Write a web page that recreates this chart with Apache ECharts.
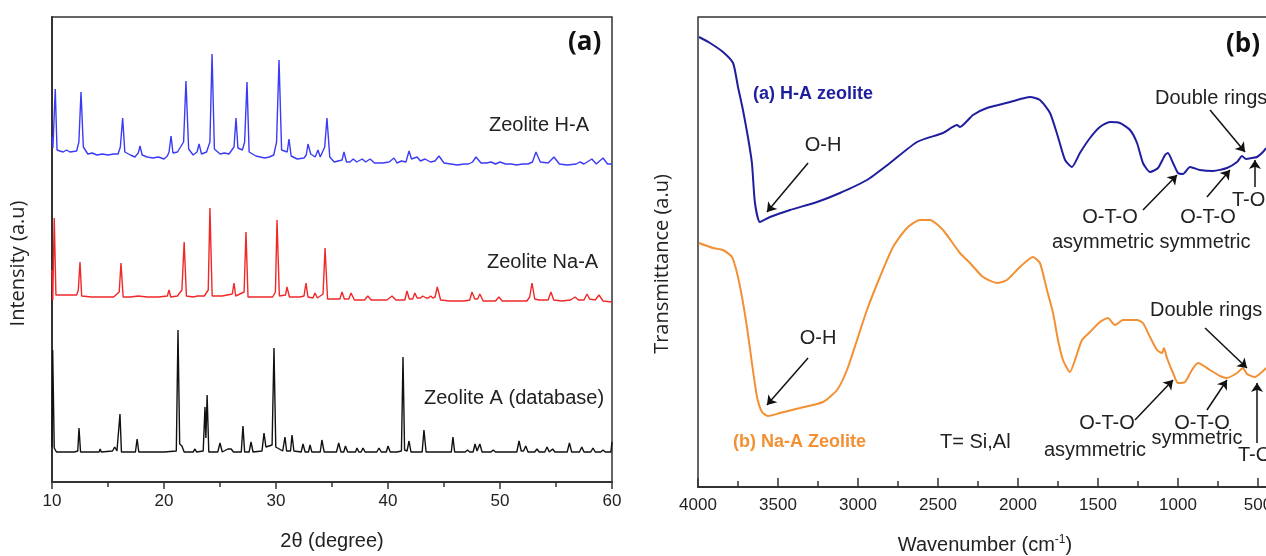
<!DOCTYPE html>
<html>
<head>
<meta charset="utf-8">
<script src="https://cdn.jsdelivr.net/npm/echarts@6/dist/echarts.min.js"></script>
<style>
  html, body { margin: 0; padding: 0; background: #fff; }
  #main { width: 1266px; height: 556px; }
</style>
</head>
<body>
<div id="main"></div>
<script>
// (a) XRD patterns: [2θ, intensity a.u.]
const xrdHA = [[10.0,345],[10.08,334],[10.29,393],[10.45,332],[10.7,331],[11.0,330],[11.3,332],[11.6,330],[12.2,331],[12.4,340],[12.59,390],[12.8,335],[13.2,328],[13.6,329],[14.0,327],[14.5,328],[15.0,327],[15.5,328],[15.9,328],[16.1,335],[16.31,364],[16.5,330],[17.0,327],[17.4,325],[17.7,329],[17.86,336],[18.05,327],[18.5,325],[19.0,324],[19.5,325],[20.0,323],[20.3,326],[20.45,330],[20.63,346],[20.8,329],[21.2,330],[21.75,340],[21.96,401],[22.2,333],[22.6,327],[22.95,330],[23.13,338],[23.35,328],[23.8,330],[24.1,340],[24.29,428],[24.5,333],[25.0,328],[25.4,329],[25.8,328],[26.25,335],[26.43,364],[26.6,334],[27.0,332],[27.2,340],[27.41,400],[27.6,330],[28.2,326],[28.6,325],[29.0,324],[29.4,325],[29.8,327],[30.05,340],[30.27,422],[30.5,332],[31.0,330],[31.16,343],[31.35,326],[31.9,323],[32.5,324],[32.7,327],[32.86,338],[33.1,328],[33.5,325],[33.75,332],[33.95,325],[34.35,335],[34.55,364],[34.8,325],[35.2,320],[35.9,322],[36.07,330],[36.3,320],[36.6,320],[36.9,323],[37.2,320],[37.7,323],[38.0,320],[38.4,323],[38.8,319],[39.5,319],[40.1,320],[40.54,324],[40.8,319],[41.2,321],[41.6,320],[41.88,331],[42.1,323],[42.6,325],[42.9,321],[43.3,323],[43.8,320],[44.2,321],[44.55,326],[45.0,319],[45.6,318],[46.2,317],[46.8,318],[47.2,318],[47.55,320],[47.86,325],[48.3,319],[48.8,319],[49.2,320],[49.6,318],[50.0,320],[50.5,318],[51.0,318],[51.5,317],[52.0,318],[52.5,318],[52.9,320],[53.21,330],[53.6,320],[54.3,319],[54.82,325],[55.3,318],[56.0,317],[56.8,318],[57.14,320],[57.5,318],[58.2,323],[58.6,318],[59.2,324],[59.6,318],[60.0,318]]
const xrdNaA = [[10.0,212],[10.07,182],[10.2,264],[10.35,187],[10.6,187],[11.0,187],[11.6,187],[12.2,187],[12.35,192],[12.5,220],[12.65,186],[13.5,185],[14.5,185],[15.5,185],[16.0,190],[16.16,219],[16.35,185],[17.0,185],[17.7,186],[18.5,185],[19.5,185],[20.3,186],[20.45,192],[20.6,185],[21.2,186],[21.6,192],[21.8,240],[22.0,186],[22.6,185],[23.0,186],[23.6,186],[23.95,192],[24.1,274],[24.3,186],[25.2,186],[26.1,188],[26.25,199],[26.4,186],[27.15,190],[27.32,250],[27.5,185],[28.5,185],[29.7,185],[29.95,190],[30.09,262],[30.3,186],[30.85,187],[30.98,195],[31.2,185],[32.1,185],[32.5,186],[32.68,199],[32.85,185],[33.3,184],[33.48,189],[33.7,184],[34.2,188],[34.38,234],[34.6,183],[35.7,183],[35.9,190],[36.1,183],[36.5,183],[36.7,189],[37.0,182],[37.9,182],[38.2,186],[38.5,182],[39.9,182],[40.36,186],[40.7,182],[41.5,182],[41.7,191],[41.9,183],[42.2,183],[42.4,189],[42.6,184],[42.9,184],[43.1,186],[43.4,184],[43.6,184],[43.8,186],[44.0,184],[44.2,185],[44.4,195],[44.7,182],[45.5,181],[46.8,181],[47.3,182],[47.5,190],[47.75,183],[48.0,183],[48.2,188],[48.5,181],[49.6,181],[49.9,185],[50.2,181],[51.0,181],[52.4,181],[52.65,185],[52.86,199],[53.1,183],[53.5,182],[54.3,182],[54.55,190],[54.8,182],[55.5,181],[56.3,182],[56.7,185],[57.0,182],[57.5,182],[57.77,188],[58.0,183],[58.5,182],[58.84,187],[59.2,181],[60.0,180]]
const xrdRef = [[10.0,35],[10.06,132],[10.2,34],[10.4,30],[11.0,30],[12.0,30],[12.3,31],[12.41,54],[12.55,30],[13.5,30],[14.2,30],[14.3,33],[14.4,30],[15.4,31],[15.6,35],[15.8,31],[15.95,32],[16.07,68],[16.2,30],[17.0,30],[17.45,30],[17.6,43],[17.75,30],[18.5,30],[18.66,32],[18.8,30],[20.0,30],[21.1,31],[21.25,152],[21.4,38],[21.6,36],[21.8,30],[22.6,30],[22.77,33],[22.9,30],[23.5,31],[23.66,75],[23.74,44],[23.85,87],[24.0,30],[24.8,30],[25.0,39],[25.2,30],[25.7,33],[25.85,31],[26.0,33],[26.2,30],[26.9,30],[27.05,56],[27.2,30],[27.6,30],[27.77,40],[27.95,30],[28.75,31],[28.93,49],[29.1,35],[29.65,37],[29.82,134],[29.98,35],[30.6,31],[30.8,45],[30.95,31],[31.3,31],[31.43,47],[31.6,31],[32.25,30],[32.41,38],[32.6,30],[32.9,30],[33.04,37],[33.2,30],[33.95,30],[34.1,42],[34.3,30],[35.4,30],[35.6,39],[35.8,30],[36.05,30],[36.2,36],[36.4,30],[37.1,30],[37.23,34],[37.4,30],[37.6,30],[37.77,34],[37.95,30],[39.0,30],[39.2,34],[39.4,30],[39.85,30],[40.0,36],[40.2,30],[40.8,30],[41.2,31],[41.34,125],[41.48,32],[41.7,31],[41.88,41],[42.05,30],[43.05,30],[43.21,52],[43.4,30],[45.65,30],[45.8,45],[45.95,30],[46.9,30],[47.1,32],[47.3,30],[47.6,30],[47.77,38],[47.95,31],[48.05,31],[48.2,38],[48.4,30],[49.2,30],[49.4,32],[49.6,30],[51.5,30],[51.7,41],[51.9,31],[52.1,31],[52.3,36],[52.5,30],[53.1,30],[53.3,33],[53.5,30],[54.0,30],[54.2,35],[54.4,30],[54.55,30],[54.7,33],[54.9,30],[56.0,30],[56.2,39],[56.4,30],[57.1,30],[57.3,35],[57.5,30],[58.1,30],[58.3,34],[58.5,30],[59.0,30],[59.2,32],[59.4,30],[59.9,30],[60.0,40]]

// (b) FTIR spectra: [wavenumber cm-1, transmittance a.u.]
const ftirHA = [[3994,450],[3925,444],[3844,435],[3781,424],[3750,400],[3719,377],[3688,350],[3663,324],[3644,284],[3613,265],[3550,270],[3425,277],[3256,285],[3113,294],[2944,307],[2800,324],[2631,345],[2469,354],[2381,362],[2363,360],[2281,372],[2194,379],[2050,385],[1925,390],[1863,387],[1800,374],[1750,350],[1706,327],[1663,320],[1613,334],[1550,349],[1488,360],[1425,365],[1363,364],[1300,357],[1256,344],[1219,324],[1175,315],[1125,319],[1081,332],[1063,334],[1031,324],[1000,314],[969,313],[925,320],[863,317],[781,316],[694,319],[631,325],[600,331],[575,328],[538,329],[506,330],[469,335],[450,339]]
const ftirNaA = [[3994,244],[3906,239],[3844,237],[3788,230],[3756,214],[3725,190],[3694,160],[3663,124],[3631,90],[3600,75],[3563,71],[3488,74],[3363,79],[3219,85],[3131,97],[3069,117],[3006,147],[2944,177],[2863,210],[2781,240],[2694,259],[2613,267],[2550,267],[2469,257],[2363,234],[2300,224],[2219,210],[2131,204],[2069,207],[1988,220],[1906,230],[1863,224],[1819,197],[1781,174],[1750,147],[1719,127],[1675,115],[1644,127],[1600,147],[1550,155],[1488,165],[1438,169],[1394,162],[1344,167],[1256,167],[1219,164],[1175,150],[1131,137],[1100,134],[1088,139],[1069,129],[1031,114],[1000,104],[956,105],[913,117],[875,124],[800,117],[738,111],[694,109],[631,114],[594,119],[569,113],[519,110],[475,115],[450,119]]

// annotation arrows in (b), [from, to] in data coords
const arrowsHA = [[[3312,324],[3569,275]],[[800,377],[581,335]],[[519,300],[519,327]],[[1219,277],[1006,312]],[[819,290],[675,317]]]
const arrowsNaA = [[[3312,129],[3569,82]],[[831,159],[569,119]],[[1269,67],[1031,107]],[[819,77],[694,107]],[[506,44],[506,104]]]

const AXIS = '#333'
const SANS = 'Liberation Sans'

function arrowLine (list) {
  return {
    silent: true,
    symbol: ['none', 'arrow'],
    symbolSize: 9,
    label: { show: false },
    lineStyle: { color: '#111', width: 1.5, type: 'solid' },
    emphasis: { disabled: true },
    data: list.map(a => [{ coord: a[0] }, { coord: a[1] }])
  }
}

function txt (text, x, y, opts) {
  return {
    type: 'text',
    x: x,
    y: y,
    silent: true,
    style: Object.assign({
      text: text,
      fill: '#222',
      font: '20px "' + SANS + '"',
      textAlign: 'left',
      textVerticalAlign: 'middle'
    }, opts || {})
  }
}

const myChart = echarts.init(document.getElementById('main'), null, { renderer: 'canvas' })

const option = {
  animation: false,
  backgroundColor: '#fff',
  grid: [
    { left: 52, top: 17, width: 560, height: 465, outerBoundsMode: 'none', show: true, borderColor: AXIS, borderWidth: 1.5, backgroundColor: 'transparent' },
    // x axis runs on to 0 cm-1, past the right edge of the picture
    { left: 698, top: 17, width: 640, height: 470, outerBoundsMode: 'none', show: true, borderColor: AXIS, borderWidth: 1.5, backgroundColor: 'transparent' }
  ],
  xAxis: [
    {
      gridIndex: 0,
      type: 'value',
      min: 10,
      max: 60,
      interval: 10,
      name: '2θ (degree)',
      nameLocation: 'middle',
      nameGap: 49,
      nameTextStyle: { fontFamily: SANS, fontSize: 20, color: '#222' },
      axisLine: { lineStyle: { color: AXIS, width: 2 } },
      axisTick: { show: true, inside: false, length: 7, lineStyle: { color: AXIS, width: 1.5 } },
      minorTick: { show: true, splitNumber: 2, length: 5, lineStyle: { color: AXIS, width: 1.5 } },
      axisLabel: { fontFamily: SANS, fontSize: 17, color: '#222', margin: 11 },
      splitLine: { show: false }
    },
    {
      gridIndex: 1,
      type: 'value',
      min: 0,
      max: 4000,
      interval: 500,
      inverse: true,
      name: '{n|Wavenumber (cm}{s|-1}{n|)}',
      nameLocation: 'middle',
      nameGap: 47,
      nameTextStyle: {
        padding: [0, 66, 0, 0],
        rich: {
          n: { fontFamily: SANS, fontSize: 20, color: '#222' },
          s: { fontFamily: SANS, fontSize: 12, color: '#222', verticalAlign: 'top', padding: [0, 0, 10, 0] }
        }
      },
      axisLine: { lineStyle: { color: AXIS, width: 2 } },
      axisTick: { show: true, inside: true, length: 9, lineStyle: { color: AXIS, width: 1.5 } },
      minorTick: { show: true, splitNumber: 2, length: 6, lineStyle: { color: AXIS, width: 1.5 } },
      axisLabel: { fontFamily: SANS, fontSize: 17, color: '#222', margin: 10, formatter: v => String(v) },
      splitLine: { show: false }
    }
  ],
  yAxis: [
    {
      gridIndex: 0,
      type: 'value',
      min: 0,
      max: 465,
      name: 'Intensity (a.u)',
      nameLocation: 'middle',
      nameGap: 24,
      nameTextStyle: { fontFamily: 'Open Sans', fontSize: 20, color: '#222', padding: [0, 28, 0, 0] },
      axisLine: { show: true, lineStyle: { color: AXIS, width: 2 } },
      axisTick: { show: false },
      axisLabel: { show: false },
      splitLine: { show: false }
    },
    {
      gridIndex: 1,
      type: 'value',
      min: 0,
      max: 470,
      name: 'Transmittance (a.u)',
      nameLocation: 'middle',
      nameGap: 26,
      nameTextStyle: { fontFamily: 'Open Sans', fontSize: 20, color: '#222', padding: [0, 24, 0, 0] },
      axisLine: { show: true, lineStyle: { color: AXIS, width: 2 } },
      axisTick: { show: false },
      axisLabel: { show: false },
      splitLine: { show: false }
    }
  ],
  series: [
    {
      name: 'Zeolite H-A', type: 'line', xAxisIndex: 0, yAxisIndex: 0,
      showSymbol: false, symbol: 'none',
      lineStyle: { color: '#3b3bf5', width: 1.4 },
      data: xrdHA
    },
    {
      name: 'Zeolite Na-A', type: 'line', xAxisIndex: 0, yAxisIndex: 0,
      showSymbol: false, symbol: 'none',
      lineStyle: { color: '#f02828', width: 1.4 },
      data: xrdNaA
    },
    {
      name: 'Zeolite A (database)', type: 'line', xAxisIndex: 0, yAxisIndex: 0,
      showSymbol: false, symbol: 'none',
      lineStyle: { color: '#111', width: 1.4 },
      data: xrdRef
    },
    {
      name: '(a) H-A zeolite', type: 'line', xAxisIndex: 1, yAxisIndex: 1,
      showSymbol: false, symbol: 'none', smooth: 0.2,
      lineStyle: { color: '#1e1e9e', width: 2 },
      markLine: arrowLine(arrowsHA),
      data: ftirHA
    },
    {
      name: '(b) Na-A Zeolite', type: 'line', xAxisIndex: 1, yAxisIndex: 1,
      showSymbol: false, symbol: 'none', smooth: 0.2,
      lineStyle: { color: '#f39033', width: 2 },
      markLine: arrowLine(arrowsNaA),
      data: ftirNaA
    }
  ],
  graphic: [
    // panel (a)
    txt('(a)', 568, 43, { font: 'bold 26px "Open Sans"', fill: '#111' }),
    txt('Zeolite H-A', 489, 125),
    txt('Zeolite Na-A', 487, 262),
    txt('Zeolite A (database)', 424, 398),
    // panel (b)
    txt('(b)', 1226, 45, { font: 'bold 26px "Open Sans"', fill: '#111' }),
    txt('(a) H-A zeolite', 753, 94, { font: 'bold 18px "' + SANS + '"', fill: '#1e1e9e' }),
    txt('O-H', 823, 145, { textAlign: 'center' }),
    txt('O-H', 818, 338, { textAlign: 'center' }),
    txt('(b) Na-A Zeolite', 733, 442, { font: 'bold 18px "' + SANS + '"', fill: '#f39033' }),
    txt('T= Si,Al', 940, 442),
    txt('Double rings', 1155, 98),
    txt('O-T-O', 1110, 217, { textAlign: 'center' }),
    txt('asymmetric', 1103, 242, { textAlign: 'center' }),
    txt('O-T-O', 1208, 217, { textAlign: 'center' }),
    txt('symmetric', 1205, 242, { textAlign: 'center' }),
    txt('T-O', 1232, 200),
    txt('Double rings', 1150, 310),
    txt('O-T-O', 1107, 423, { textAlign: 'center' }),
    txt('asymmetric', 1095, 450, { textAlign: 'center' }),
    txt('O-T-O', 1202, 423, { textAlign: 'center' }),
    txt('symmetric', 1197, 438, { textAlign: 'center' }),
    txt('T-O', 1238, 455)
  ]
}

myChart.setOption(option)
window.addEventListener('resize', function () {
  myChart.resize()
})
</script>
</body>
</html>
